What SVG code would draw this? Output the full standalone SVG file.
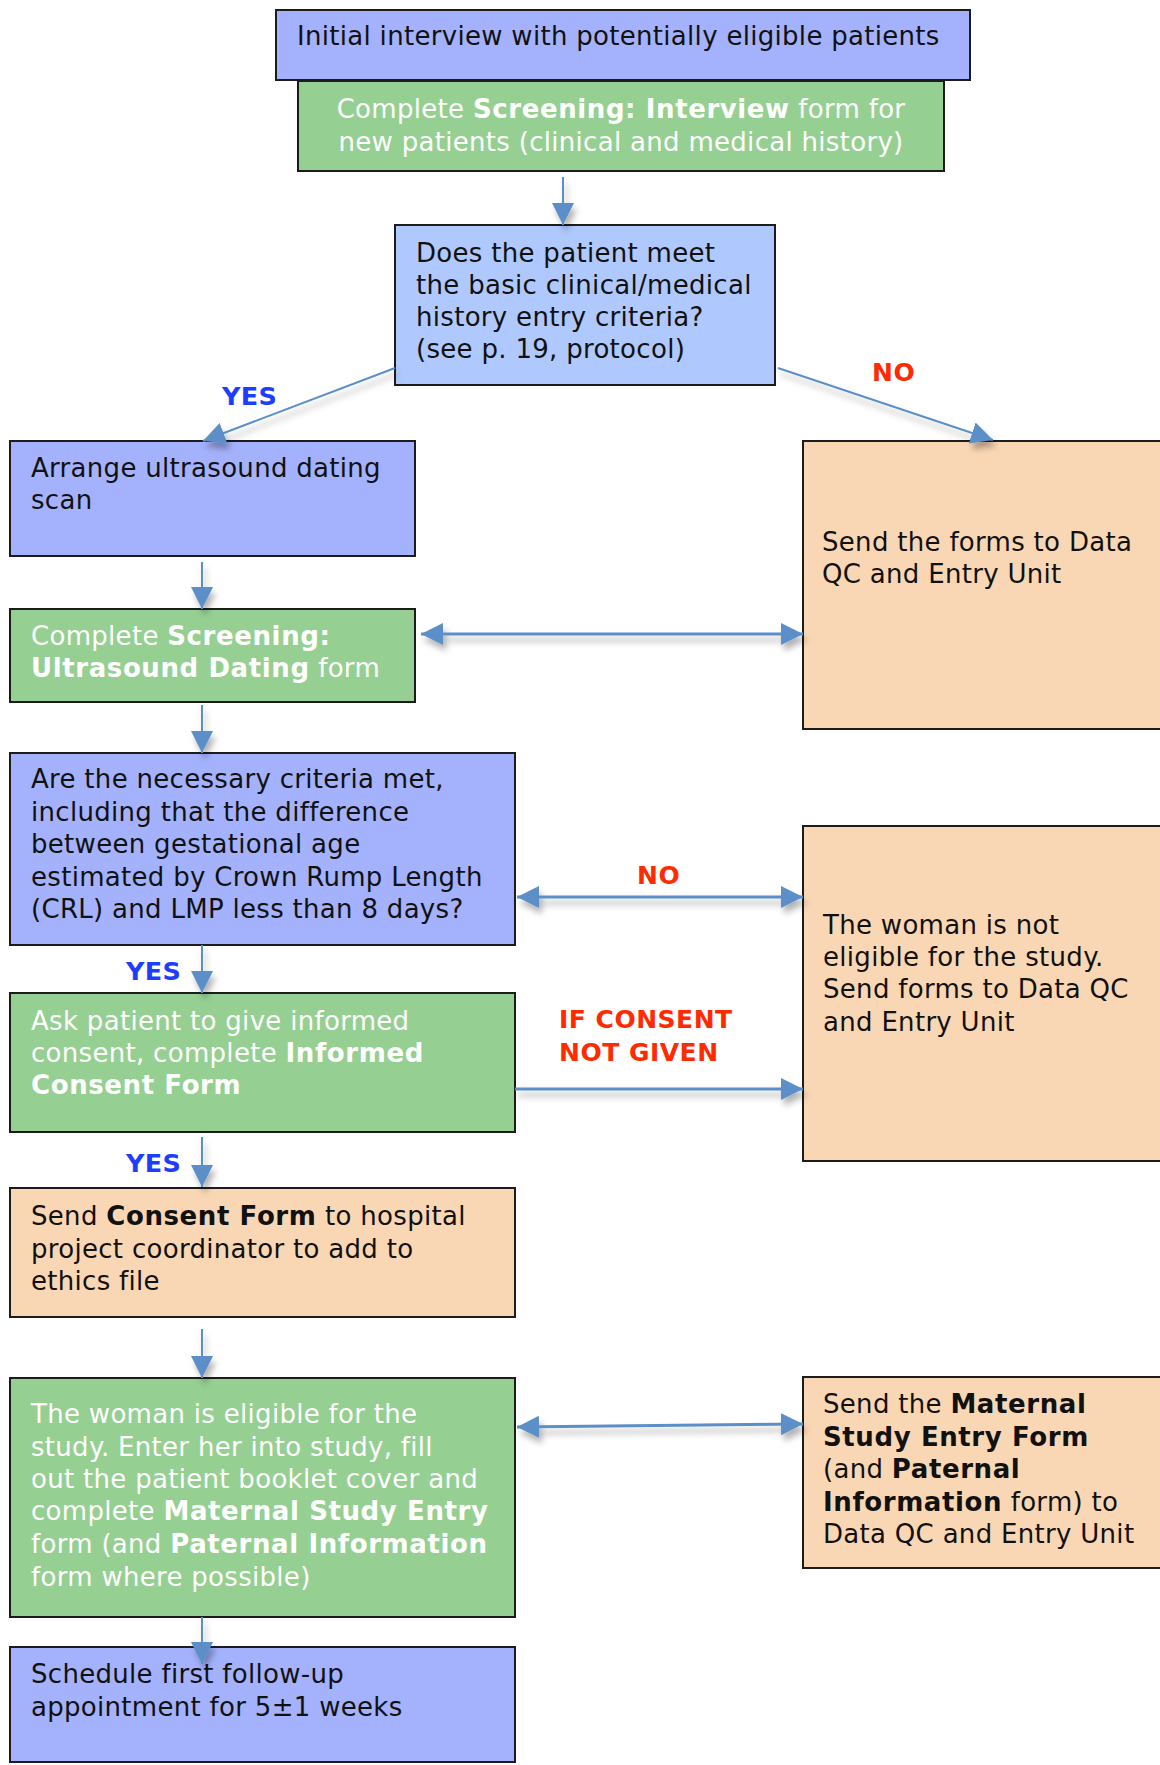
<svg xmlns="http://www.w3.org/2000/svg" width="1160" height="1765" viewBox="0 0 1160 1765">
<defs>
<style>
text{font-family:"DejaVu Sans",Verdana,sans-serif;font-size:26px;fill:#111;letter-spacing:0.3px}
.w{fill:#fff}
.b{font-weight:bold;letter-spacing:0.6px}
.box{stroke:#1c1c1c;stroke-width:2}
.blue{fill:#a4b2fd}
.lblue{fill:#afc8fe}
.green{fill:#96cf92}
.orange{fill:#fad7b4}
.yes{fill:#1f3dff;font-weight:bold;font-size:25.5px;letter-spacing:0.3px}
.no{fill:#ff2a00;font-weight:bold;font-size:25px;letter-spacing:0.5px}
.c{stroke:#5b8fc8;fill:none}
.c1{stroke-width:2}
.c2{stroke-width:3}
</style>
<marker id="ah" markerUnits="userSpaceOnUse" markerWidth="24" markerHeight="24" refX="22" refY="11" orient="auto-start-reverse" viewBox="0 0 24 22">
<path d="M0,0 L22,11 L0,22 z" fill="#5b8fc8"/>
</marker>
<filter id="sh" x="-20%" y="-50%" width="140%" height="200%">
<feDropShadow dx="3" dy="6" stdDeviation="3" flood-color="#000" flood-opacity="0.3"/>
</filter>
</defs>

<g id="n1"><rect class="box blue" x="276" y="10" width="694" height="70"/>
<text x="297" y="45">Initial interview with potentially eligible patients</text></g>

<g id="n2"><rect class="box green" x="298" y="81" width="646" height="90"/>
<text class="w" x="621" y="118" text-anchor="middle">Complete <tspan class="b">Screening: Interview</tspan> form for</text>
<text class="w" x="621" y="151" text-anchor="middle">new patients (clinical and medical history)</text></g>

<g id="n3"><rect class="box lblue" x="395" y="225" width="380" height="160"/>
<text x="416" y="262">Does the patient meet</text>
<text x="416" y="294">the basic clinical/medical</text>
<text x="416" y="326">history entry criteria?</text>
<text x="416" y="358">(see p. 19, protocol)</text></g>

<g id="n4"><rect class="box blue" x="10" y="441" width="405" height="115"/>
<text x="31" y="477">Arrange ultrasound dating</text>
<text x="31" y="509">scan</text></g>

<g id="n5"><rect class="box orange" x="803" y="441" width="370" height="288"/>
<text x="822" y="551">Send the forms to Data</text>
<text x="822" y="583">QC and Entry Unit</text></g>

<g id="n6"><rect class="box green" x="10" y="609" width="405" height="93"/>
<text class="w" x="31" y="645">Complete <tspan class="b">Screening:</tspan></text>
<text class="w" x="31" y="677"><tspan class="b">Ultrasound Dating</tspan> form</text></g>

<g id="n7"><rect class="box blue" x="10" y="753" width="505" height="192"/>
<text x="31" y="788">Are the necessary criteria met,</text>
<text x="31" y="821">including that the difference</text>
<text x="31" y="853">between gestational age</text>
<text x="31" y="886">estimated by Crown Rump Length</text>
<text x="31" y="918">(CRL) and LMP less than 8 days?</text></g>

<g id="n8"><rect class="box orange" x="803" y="826" width="370" height="335"/>
<text x="823" y="934">The woman is not</text>
<text x="823" y="966">eligible for the study.</text>
<text x="823" y="998">Send forms to Data QC</text>
<text x="823" y="1031">and Entry Unit</text></g>

<g id="n9"><rect class="box green" x="10" y="993" width="505" height="139"/>
<text class="w" x="31" y="1030">Ask patient to give informed</text>
<text class="w" x="31" y="1062">consent, complete <tspan class="b">Informed</tspan></text>
<text class="w b" x="31" y="1094">Consent Form</text></g>

<g id="n10"><rect class="box orange" x="10" y="1188" width="505" height="129"/>
<text x="31" y="1225">Send <tspan class="b">Consent Form</tspan> to hospital</text>
<text x="31" y="1258">project coordinator to add to</text>
<text x="31" y="1290">ethics file</text></g>

<g id="n11"><rect class="box green" x="10" y="1378" width="505" height="239"/>
<text class="w" x="31" y="1423">The woman is eligible for the</text>
<text class="w" x="31" y="1456">study. Enter her into study, fill</text>
<text class="w" x="31" y="1488">out the patient booklet cover and</text>
<text class="w" x="31" y="1520">complete <tspan class="b">Maternal Study Entry</tspan></text>
<text class="w" x="31" y="1553">form (and <tspan class="b">Paternal Information</tspan></text>
<text class="w" x="31" y="1586">form where possible)</text></g>

<g id="n12"><rect class="box orange" x="803" y="1377" width="370" height="191"/>
<text x="823" y="1413">Send the <tspan class="b">Maternal</tspan></text>
<text class="b" x="823" y="1446">Study Entry Form</text>
<text x="823" y="1478">(and <tspan class="b">Paternal</tspan></text>
<text x="823" y="1511"><tspan class="b">Information</tspan> form) to</text>
<text x="823" y="1543">Data QC and Entry Unit</text></g>

<g id="n13"><rect class="box blue" x="10" y="1647" width="505" height="115"/>
<text x="31" y="1683">Schedule first follow-up</text>
<text x="31" y="1716">appointment for 5±1 weeks</text></g>

<g id="connectors" filter="url(#sh)">
<line class="c c1" x1="563" y1="177" x2="563" y2="225" marker-end="url(#ah)"/>
<line class="c c1" x1="395" y1="368" x2="203" y2="441" marker-end="url(#ah)"/>
<line class="c c1" x1="778" y1="368" x2="993" y2="440" marker-end="url(#ah)"/>
<line class="c c1" x1="202" y1="562" x2="202" y2="609" marker-end="url(#ah)"/>
<line class="c c2" x1="421" y1="634" x2="803" y2="634" marker-start="url(#ah)" marker-end="url(#ah)"/>
<line class="c c1" x1="202" y1="705" x2="202" y2="753" marker-end="url(#ah)"/>
<line class="c c2" x1="517" y1="897" x2="803" y2="897" marker-start="url(#ah)" marker-end="url(#ah)"/>
<line class="c c1" x1="202" y1="945" x2="202" y2="993" marker-end="url(#ah)"/>
<line class="c c2" x1="515" y1="1089" x2="803" y2="1089" marker-end="url(#ah)"/>
<line class="c c1" x1="202" y1="1137" x2="202" y2="1187" marker-end="url(#ah)"/>
<line class="c c1" x1="202" y1="1329" x2="202" y2="1378" marker-end="url(#ah)"/>
<line class="c c2" x1="517" y1="1427" x2="803" y2="1424" marker-start="url(#ah)" marker-end="url(#ah)"/>
<line class="c c1" x1="202" y1="1617" x2="202" y2="1664" marker-end="url(#ah)"/>
</g>

<g id="labels">
<text class="yes" x="222" y="405">YES</text>
<text class="no" x="872" y="381">NO</text>
<text class="no" x="637" y="884">NO</text>
<text class="yes" x="126" y="980">YES</text>
<text class="no" x="559" y="1028" letter-spacing="1">IF CONSENT</text>
<text class="no" x="559" y="1061" letter-spacing="1">NOT GIVEN</text>
<text class="yes" x="126" y="1172">YES</text>
</g>
</svg>
